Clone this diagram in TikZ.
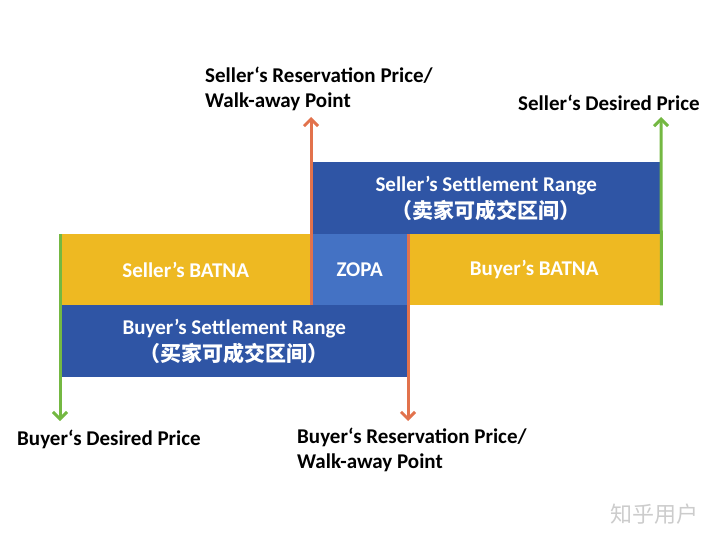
\documentclass[tikz,border=0pt]{standalone}
\usepackage{fontspec}
\setmainfont{Carlito}
\newfontfamily\cjk{Noto Sans CJK SC}
\usetikzlibrary{arrows.meta}
\definecolor{dblue}{HTML}{2F55A5}
\definecolor{zblue}{HTML}{4472C4}
\definecolor{gold}{HTML}{EEB922}
\definecolor{orng}{HTML}{E2724C}
\definecolor{grn}{HTML}{74B842}
\tikzset{
  box/.style={draw=none, inner sep=0pt, anchor=north west, text=white, font=\bfseries\fontsize{21}{26}\selectfont, align=center},
  lbl/.style={inner sep=0pt, anchor=west, text=black, font=\bfseries\fontsize{21}{25}\selectfont, align=left},
  garrow/.style={draw=grn, line width=3pt, -{Straight Barb[length=7pt,width=14pt,line width=3pt]}},
  oarrow/.style={draw=orng, line width=3pt, -{Straight Barb[length=7pt,width=14pt,line width=3pt]}},
}
\begin{document}
\begin{tikzpicture}[x=1pt,y=-1pt]
\useasboundingbox (0,0) rectangle (720,540);
% boxes
\node[box, fill=dblue, minimum width=348pt, minimum height=72pt] (ssr) at (312,162)
  {Seller’s Settlement Range\\[1pt]{\cjk\bfseries （卖家可成交区间）}};
\node[box, fill=gold, minimum width=251pt, minimum height=71pt] (sb) at (60,234) {Seller’s BATNA};
\node[box, fill=zblue, minimum width=97pt, minimum height=71pt] (zopa) at (311,234) {ZOPA};
\node[box, fill=gold, minimum width=252pt, minimum height=71pt] (bb) at (408,234) {Buyer’s BATNA};
\node[box, fill=dblue, minimum width=348pt, minimum height=72pt] (bsr) at (60,305)
  {Buyer’s Settlement Range\\[1pt]{\cjk\bfseries （买家可成交区间）}};
% arrow end points
\coordinate (gl) at (60,421);
\coordinate (gr) at (661,117);
\coordinate (ol) at (311,117);
\coordinate (or) at (408,421);
\draw[garrow] (sb.north west) -- (gl);
\draw[garrow] (bb.south east) ++(1,0) -- (gr);
\draw[oarrow] (zopa.south west) -- (ol);
\draw[oarrow] (bb.north west) -- (or);
% labels
\node[lbl] (lsr) at (205,89) {Seller‘s Reservation Price/\\Walk-away Point};
\node[lbl] (lsd) at (518,103) {Seller‘s Desired Price};
\node[lbl] (lbd) at (17,439) {Buyer‘s Desired Price};
\node[lbl] (lbr) at (297,450) {Buyer‘s Reservation Price/\\Walk-away Point};
\node[inner sep=0pt, text=black!20, font=\cjk\fontsize{22}{24}\selectfont] (wm) at (654,514) {知乎用户};
\end{tikzpicture}
\end{document}
